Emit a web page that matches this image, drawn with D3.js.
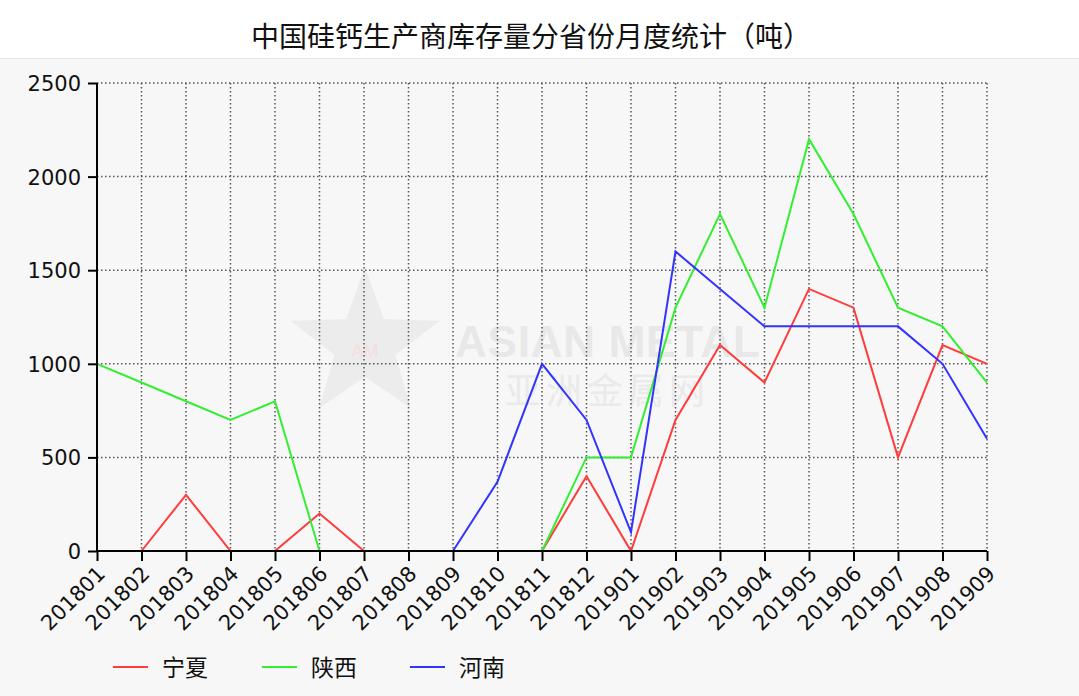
<!DOCTYPE html>
<html><head><meta charset="utf-8">
<script src="https://cdn.jsdelivr.net/npm/d3@7/dist/d3.min.js"></script>
<style>
body{margin:0;background:#fff;}
svg{display:block;}
</style></head>
<body>
<svg id="chart" width="1079" height="696"></svg>
<script>
const title = "中国硅钙生产商库存量分省份月度统计（吨）";
const categories = ["201801","201802","201803","201804","201805","201806","201807","201808","201809","201810","201811","201812","201901","201902","201903","201904","201905","201906","201907","201908","201909"];
const ningxia = [null,0,300,0,0,200,0,null,null,null,0,400,0,700,1100,900,1400,1300,500,1100,1000];
const shaanxi = [1000,900,800,700,800,0,null,null,null,null,0,500,500,1300,1800,1300,2200,1800,1300,1200,900];
const henan   = [null,null,null,null,null,null,null,null,0,370,1000,700,100,1600,1400,1200,1200,1200,1200,1000,600];
const seriesNames = ["宁夏","陕西","河南"];
const seriesColors = ["#ff3b3b","#33ee33","#3333ff"];
const yTicks = [0,500,1000,1500,2000,2500];

const svg = d3.select("#chart");
const W = 1079, H = 696;
const m = {left:97, right:W-987, top:83, bottom:H-551};

svg.append("rect").attr("x",0).attr("y",58).attr("width",W).attr("height",H-58).attr("fill","#f7f7f7");
svg.append("line").attr("x1",0).attr("x2",W).attr("y1",58.5).attr("y2",58.5).attr("stroke","#e6e6e6");

svg.append("text").attr("x",531).attr("y",47).attr("text-anchor","middle")
  .attr("font-family","'Noto Sans CJK SC', sans-serif").attr("font-size",28).attr("fill","#111").text(title);

const x = d3.scalePoint().domain(categories).range([m.left, W-m.right]);
const y = d3.scaleLinear().domain([0,2500]).range([H-m.bottom, m.top]);

// watermark
const wm = svg.append("g").attr("opacity",0.55);
const cx = 365, cy = 345, R = 78, r = 32;
const starPts = d3.range(10).map(i => {
  const a = -Math.PI/2 + i*Math.PI/5;
  const rr = i%2===0 ? R : r;
  return [cx + rr*Math.cos(a), cy + rr*Math.sin(a)];
});
wm.append("polygon").attr("points", starPts.map(p=>p.join(",")).join(" ")).attr("fill","#e4e4e4");
wm.append("text").attr("x",cx).attr("y",cy+12).attr("text-anchor","middle").attr("font-family","Liberation Sans, Arial").attr("font-size",18).attr("fill","#f3caca").text("AM");
wm.append("text").attr("x",455).attr("y",357).attr("font-family","Liberation Sans, Arial").attr("font-weight","bold").attr("font-size",44).attr("fill","#dcdcdc").attr("textLength",305).text("ASIAN METAL");
wm.append("text").attr("x",505).attr("y",404).attr("font-family","'Noto Sans CJK SC', sans-serif").attr("font-size",36).attr("fill","#e0e0e0").attr("textLength",200).text("亚洲金属网");

// grid
const grid = svg.append("g").attr("stroke","#555").attr("stroke-width",1.5).attr("stroke-dasharray","1.5,2.5");
grid.selectAll(".gx").data(categories.slice(1)).join("line")
  .attr("x1",d=>x(d)).attr("x2",d=>x(d)).attr("y1",y(2500)).attr("y2",y(0));
grid.selectAll(".gy").data(yTicks.slice(1)).join("line")
  .attr("x1",m.left).attr("x2",W-m.right).attr("y1",d=>y(d)).attr("y2",d=>y(d));

// lines
const line = d3.line().defined(d=>d.v!==null).x(d=>x(d.c)).y(d=>y(d.v));
[ningxia, shaanxi, henan].forEach((arr,i)=>{
  const data = arr.map((v,j)=>({c:categories[j], v}));
  svg.append("path").datum(data).attr("d",line).attr("fill","none")
    .attr("stroke",seriesColors[i]).attr("stroke-width",2);
});

// axes
const yAxis = d3.axisLeft(y).tickValues(yTicks).tickSize(9).tickPadding(7).tickFormat(d3.format("d"));
const gy = svg.append("g").attr("transform",`translate(${m.left},0)`).call(yAxis);
gy.select(".domain").attr("stroke","#000").attr("stroke-width",2).attr("d",`M0,${y(2500)}V${y(0)}`);
gy.selectAll(".tick line").attr("stroke","#000").attr("stroke-width",2);
gy.selectAll(".tick text").attr("font-family","'DejaVu Sans', Verdana").attr("font-size",21).attr("fill","#111").attr("dy","0.36em");

const xAxis = d3.axisBottom(x).tickSize(10).tickPadding(4);
const gx = svg.append("g").attr("transform",`translate(0,${y(0)})`).call(xAxis);
gx.select(".domain").attr("stroke","#000").attr("stroke-width",2).attr("d",`M${m.left},0H${W-m.right}`);
gx.selectAll(".tick line").attr("stroke","#000").attr("stroke-width",2);
gx.selectAll(".tick text").attr("font-family","'DejaVu Sans', Verdana").attr("font-size",21).attr("fill","#111")
  .attr("text-anchor","end").attr("dy",0).attr("y",0)
  .attr("transform","translate(9,24) rotate(-45)");

// legend
const lg = svg.append("g");
const lx = [113, 262, 410];
seriesNames.forEach((n,i)=>{
  lg.append("line").attr("x1",lx[i]).attr("x2",lx[i]+35).attr("y1",667).attr("y2",667).attr("stroke",seriesColors[i]).attr("stroke-width",2);
  lg.append("text").attr("x",lx[i]+49).attr("y",676).attr("font-family","'Noto Sans CJK SC', sans-serif").attr("font-size",23).attr("fill","#111").text(n);
});
</script>
</body></html>
